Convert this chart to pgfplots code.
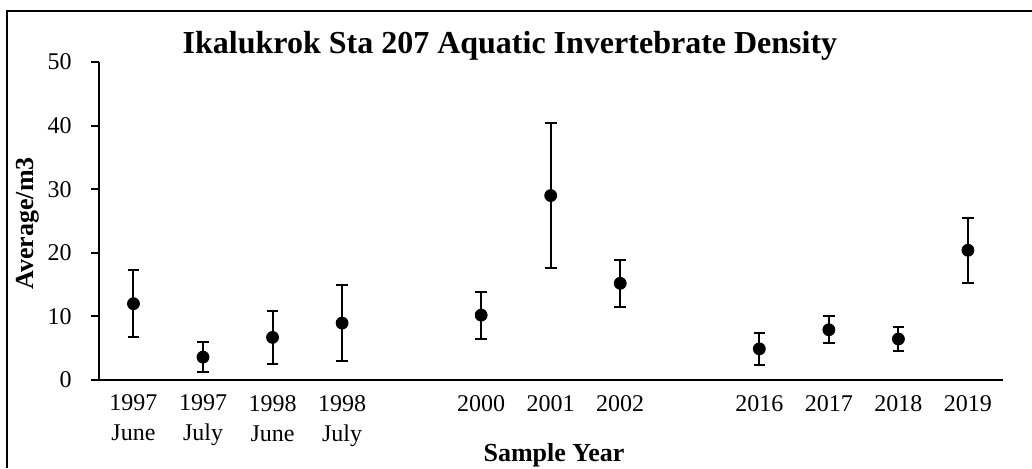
\documentclass[border=0pt]{standalone}
\usepackage{fontspec}
\setmainfont{Liberation Serif}
\usepackage{pgfplots}
\pgfplotsset{compat=1.18}

\begin{document}
\begin{tikzpicture}
% page frame: 1032x468 px at 0.5pt per px
\useasboundingbox (0,0) rectangle (516pt,234pt);
\draw[line width=1pt] (3.5pt,0) -- (3.5pt,228.5pt) -- (516pt,228.5pt);

\begin{axis}[at={(49.35pt,44pt)}, anchor=south west,
  scale only axis, width=452pt, height=159pt,
  xmin=-0.5, xmax=12.5, ymin=0, ymax=50,
  axis lines*=left, axis line style={line width=1pt},
  ytick={0,10,...,50}, tick align=outside,
  major tick length=4pt, ytick style={line width=1pt, black},
  xtick={0,1,2,3,5,6,7,9,10,11,12},
  xticklabels={1997\\June,1997\\July,1998\\June,1998\\July,2000,2001,2002,2016,2017,2018,2019},
  xtick style={draw=none},
  minor xtick={-0.5,0.5,...,12.5},
  minor tick length=3.5pt, minor x tick style={line width=1pt, black},
  xticklabel style={align=center, font=\fontsize{12}{15}\selectfont, anchor=north},
  yticklabel style={font=\fontsize{12}{14}\selectfont, xshift=-6pt},
  /pgf/number format/assume math mode=true,
  clip=false]
\addplot+[only marks, mark=*, black, mark options={fill=black, scale=1.5},
  error bars/.cd, y dir=both, y explicit,
  error bar style={line width=1pt, black},
  error mark options={rotate=90, mark size=2.9pt, line width=1pt, black}]
  coordinates {
  (0,12.0) +- (0,5.3)
  (1,3.6) +- (0,2.3)
  (2,6.7) +- (0,4.2)
  (3,8.95) +- (0,6.0)
  (5,10.2) +- (0,3.7)
  (6,29.0) +- (0,11.35)
  (7,15.2) +- (0,3.7)
  (9,4.9) +- (0,2.5)
  (10,7.9) +- (0,2.1)
  (11,6.45) +- (0,1.85)
  (12,20.4) +- (0,5.1)
  };
\end{axis}

\node[anchor=base, font=\fontsize{16}{18}\selectfont\bfseries] at (255pt,207.5pt)
  {Ikalukrok Sta 207 Aquatic Invertebrate Density};
\node[anchor=base, font=\fontsize{13}{15}\selectfont\bfseries] at (277pt,3.15pt) {Sample Year};
\node[rotate=90, font=\fontsize{13}{15}\selectfont\bfseries] at (14pt,122.25pt) {Average/m3};
\end{tikzpicture}
\end{document}
